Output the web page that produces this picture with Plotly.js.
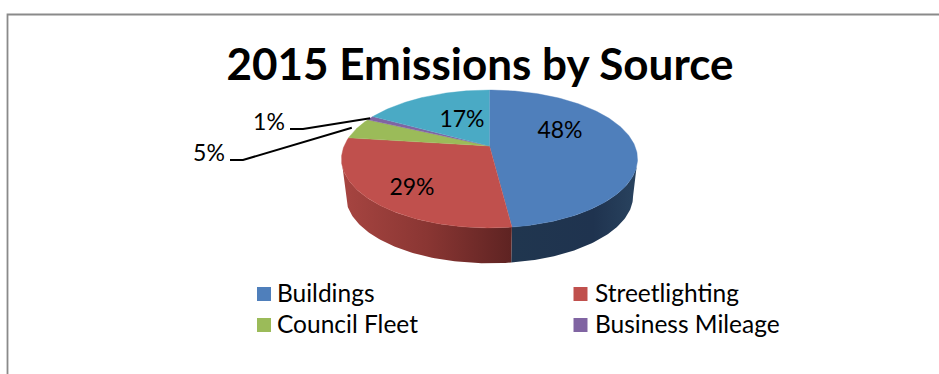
<!DOCTYPE html>
<html>
<head>
<meta charset="utf-8">
<script src="https://cdn.plot.ly/plotly-3.0.1.min.js"></script>
<style>html,body{margin:0;padding:0;background:#fff}#chart{width:939px;height:374px}</style>
</head>
<body>
<div id="chart"></div>
<script>
// Share of 2015 emissions by source, in percent, clockwise from 12 o'clock.
const categories = ['Buildings', 'Streetlighting', 'Council Fleet', 'Business Mileage', 'Other'];
const shares = [48, 29, 5, 1, 17];
const sliceColors = ['#4f7fbb', '#c0504d', '#9bbb59', '#8064a2', '#4aaac5'];
const legendCount = 4;

// Perspective disc: top face and the smaller, lower rim of its base.
const TILT = 0.188;
const topFace = {cx: 489.5, cy: 146, rx: 145.4, ry: 66.5};
const baseFace = {cx: 489.5, cy: 183.5, rx: 141, ry: 64.8};

function rim(face, deg, r = 1) {
  const t = deg * Math.PI / 180;
  const u = Math.sin(t) * r, v = Math.cos(t) * r;
  const d = 1 + TILT * v;
  return [face.cx + face.rx * u / d, face.cy - face.ry * v / d];
}
function arc(face, from, to) {
  const pts = [], n = Math.max(2, Math.ceil(Math.abs(to - from)));
  for (let i = 0; i <= n; i++) pts.push(rim(face, from + (to - from) * i / n));
  return pts;
}
function polygon(name, pts, extra) {
  return Object.assign({
    type: 'scatter', mode: 'lines', fill: 'toself', name,
    x: pts.map(p => p[0]), y: pts.map(p => p[1]),
    hoverinfo: 'skip', showlegend: false
  }, extra);
}

// Cumulative angles for each slice.
const total = shares.reduce((a, b) => a + b, 0);
let running = 0;
const spans = shares.map(v => {
  const from = running * 360 / total;
  running += v;
  return [from, running * 360 / total];
});

// The wall is only visible where the rim faces the viewer.
// Its shading runs left to right across each slice's stretch of wall.
const wallFrom = Math.acos(-TILT) * 180 / Math.PI;
const wallTo = 360 - wallFrom;
const wallShades = [
  [[0, '#20364f'], [0.65, '#1f334f'], [1, '#29435f']],
  [[0, '#a74541'], [0.5, '#8a3633'], [1, '#5e2322']]
];
const walls = [0, 1].map(i => {
  const a = Math.max(spans[i][0], wallFrom), b = Math.min(spans[i][1], wallTo);
  const pts = arc(topFace, a, b).concat(arc(baseFace, b, a));
  return polygon(categories[i] + ' wall', pts, {
    line: {width: 0},
    fillcolor: wallShades[i][1][1],
    fillgradient: {type: 'horizontal', colorscale: wallShades[i]}
  });
});

const slices = spans.map((s, i) => polygon(categories[i],
  [[topFace.cx, topFace.cy]].concat(arc(topFace, s[0], s[1])), {
    line: {width: 0.4, color: sliceColors[i]},
    fillcolor: sliceColors[i]
  }));

// Percent labels, placed beside or on their slices.
const labelSpots = [[560, 132], [412, 189], [209, 155], [269, 124], [462, 121]];
const percentLabels = {
  type: 'scatter', mode: 'text', hoverinfo: 'skip', showlegend: false,
  x: labelSpots.map(p => p[0]), y: labelSpots.map(p => p[1]),
  text: shares.map(v => v + '%'), textposition: 'middle center',
  textfont: {family: 'Lato, sans-serif', size: 23, color: '#000'}
};

// Leader lines run from the two outside labels to the middle of their slices.
function leader(index, start, knee, reach) {
  const end = rim(topFace, (spans[index][0] + spans[index][1]) / 2, reach);
  return {
    type: 'scatter', mode: 'lines', hoverinfo: 'skip', showlegend: false,
    x: [start[0], knee[0], end[0]], y: [start[1], knee[1], end[1]],
    line: {color: '#000', width: 2}
  };
}
const leaders = [leader(2, [230, 160], [243, 160], 1.04), leader(3, [290, 129], [303, 129], 1.0)];

// Two-column key below the pie.
const keyX = [264, 580.5, 264, 580.5];
const keyY = [294, 294, 325, 325];
const keyTextX = [277, 595, 277, 595];
const keyMarks = {
  type: 'scatter', mode: 'markers', hoverinfo: 'skip', showlegend: false,
  x: keyX, y: keyY,
  marker: {symbol: 'square', size: 14, color: sliceColors.slice(0, legendCount)}
};
const keyText = {
  type: 'scatter', mode: 'text', hoverinfo: 'skip', showlegend: false,
  x: keyTextX, y: keyY.map(v => v + 2),
  text: categories.slice(0, legendCount), textposition: 'middle right',
  textfont: {family: 'Lato, sans-serif', size: 24.5, color: '#000'}
};

const layout = {
  width: 939, height: 374,
  margin: {l: 0, r: 0, t: 0, b: 0},
  paper_bgcolor: '#fff', plot_bgcolor: '#fff',
  showlegend: false,
  title: {
    text: '<b>2015 Emissions by Source</b>',
    x: 480 / 939, xanchor: 'center', xref: 'paper',
    y: 1 - 65 / 374, yanchor: 'middle', yref: 'paper',
    font: {family: 'Lato, sans-serif', size: 44, color: '#000'}
  },
  xaxis: {range: [0, 939], visible: false, fixedrange: true},
  yaxis: {range: [374, 0], visible: false, fixedrange: true},
  shapes: [{
    type: 'path', xref: 'x', yref: 'y',
    path: 'M 7.5 374 L 7.5 14.5 L 939 14.5',
    line: {color: '#8a8a8a', width: 1.8}
  }]
};

Plotly.newPlot('chart', [...walls, ...slices, ...leaders, percentLabels, keyMarks, keyText], layout,
  {displayModeBar: false, staticPlot: true});
</script>
</body>
</html>
